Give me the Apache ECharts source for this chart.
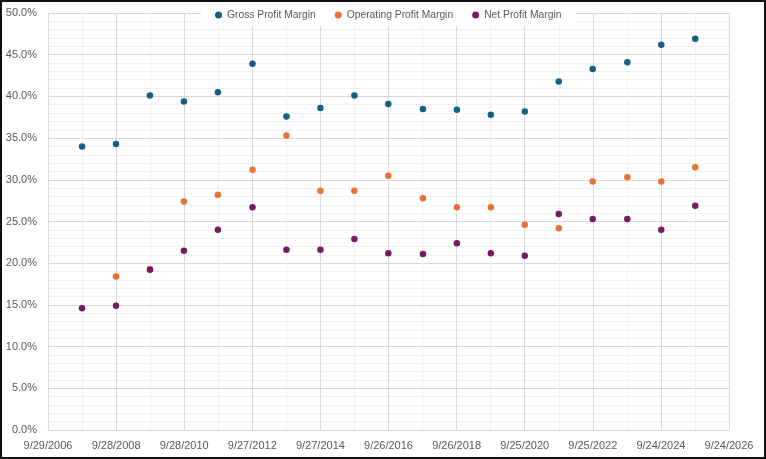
<!DOCTYPE html>
<html>
<head>
<meta charset="utf-8">
<script src="https://cdn.jsdelivr.net/npm/echarts@6/dist/echarts.min.js"></script>
<style>
html,body{margin:0;padding:0;background:#fff;}
#wrap{position:relative;width:766px;height:459px;}
#chart{width:766px;height:459px;}
#frame{position:absolute;left:0;top:0;width:766px;height:459px;box-sizing:border-box;border:2px solid #111;pointer-events:none;}
</style>
</head>
<body>
<div id="wrap"><div id="chart"></div><div id="frame"></div></div>
<script>
// Fiscal year-end dates
const dates = ["2007-09-29","2008-09-27","2009-09-26","2010-09-25","2011-09-24","2012-09-29","2013-09-28","2014-09-27","2015-09-26","2016-09-24","2017-09-30","2018-09-29","2019-09-28","2020-09-26","2021-09-25","2022-09-24","2023-09-30","2024-09-28","2025-09-27"];
const grossMargin = [34.0,34.3,40.1,39.4,40.5,43.9,37.6,38.6,40.1,39.1,38.5,38.4,37.8,38.2,41.8,43.3,44.1,46.2,46.9];
const operatingMargin = [null,18.4,19.3,27.4,28.2,31.2,35.3,28.7,28.7,30.5,27.8,26.7,26.7,24.6,24.2,29.8,30.3,29.8,31.5];
const netMargin = [14.6,14.9,19.2,21.5,24.0,26.7,21.6,21.6,22.9,21.2,21.1,22.4,21.2,20.9,25.9,25.3,25.3,24.0,26.9];
const seriesNames = ["Gross Profit Margin","Operating Profit Margin","Net Profit Margin"];
const axisStartDate = "2006-09-29";
const axisSpanDays = 7300;
const axisStepDays = 730;
const yTicks = [0,5,10,15,20,25,30,35,40,45,50];

const DAY = 86400000;
const base = Date.parse(axisStartDate + "T00:00:00Z");
function toDays(s){ return Math.round((Date.parse(s + "T00:00:00Z") - base) / DAY); }
function fmtDate(d){
  const t = new Date(base + d * DAY);
  return (t.getUTCMonth()+1) + "/" + t.getUTCDate() + "/" + t.getUTCFullYear();
}
function pairs(vals){
  const out = [];
  vals.forEach((v,i)=>{ if(v!==null) out.push([toDays(dates[i]), v]); });
  return out;
}
const colors = ["#156082","#E97132","#741B68"];
const font = "'Liberation Sans', Arial, sans-serif";
const chart = echarts.init(document.getElementById('chart'), null, {renderer:'canvas'});
chart.setOption({
  animation:false,
  backgroundColor:'#fff',
  color: colors,
  textStyle:{fontFamily:font},
  legend:{
    top:4, left:201,
    backgroundColor:'#fff',
    padding:[6,14,6,14],
    itemGap:19,
    itemWidth:7, itemHeight:7,
    icon:'circle',
    textStyle:{color:'#595959', fontSize:10.3, fontFamily:font},
    data: seriesNames
  },
  grid:{left:48, right:37, top:13, bottom:29, containLabel:false},
  xAxis:{
    type:'value', min:0, max:axisSpanDays, interval:axisStepDays,
    axisLine:{show:true, lineStyle:{color:'#D9D9D9', width:1}},
    axisTick:{show:false},
    axisLabel:{color:'#595959', fontSize:11, margin:10, formatter:(v)=>fmtDate(v)},
    splitLine:{show:true, lineStyle:{color:'#D9D9D9', width:1}},
    minorTick:{show:false, splitNumber:2},
    minorSplitLine:{show:true, lineStyle:{color:'#F2F2F2', width:1}}
  },
  yAxis:{
    type:'value', min:yTicks[0], max:yTicks[yTicks.length-1], interval:yTicks[1]-yTicks[0],
    axisLine:{show:false},
    axisTick:{show:false},
    axisLabel:{color:'#595959', fontSize:11, margin:11, formatter:(v)=>v.toFixed(1)+'%'},
    splitLine:{show:true, lineStyle:{color:'#D9D9D9', width:1}},
    minorTick:{show:false, splitNumber:5},
    minorSplitLine:{show:true, lineStyle:{color:'#F2F2F2', width:1}}
  },
  series:[
    {name:seriesNames[0], type:'scatter', symbolSize:6.5, itemStyle:{opacity:1}, data:pairs(grossMargin), z:3},
    {name:seriesNames[1], type:'scatter', symbolSize:6.5, itemStyle:{opacity:1}, data:pairs(operatingMargin), z:4},
    {name:seriesNames[2], type:'scatter', symbolSize:6.5, itemStyle:{opacity:1}, data:pairs(netMargin), z:5}
  ]
});
</script>
</body>
</html>
